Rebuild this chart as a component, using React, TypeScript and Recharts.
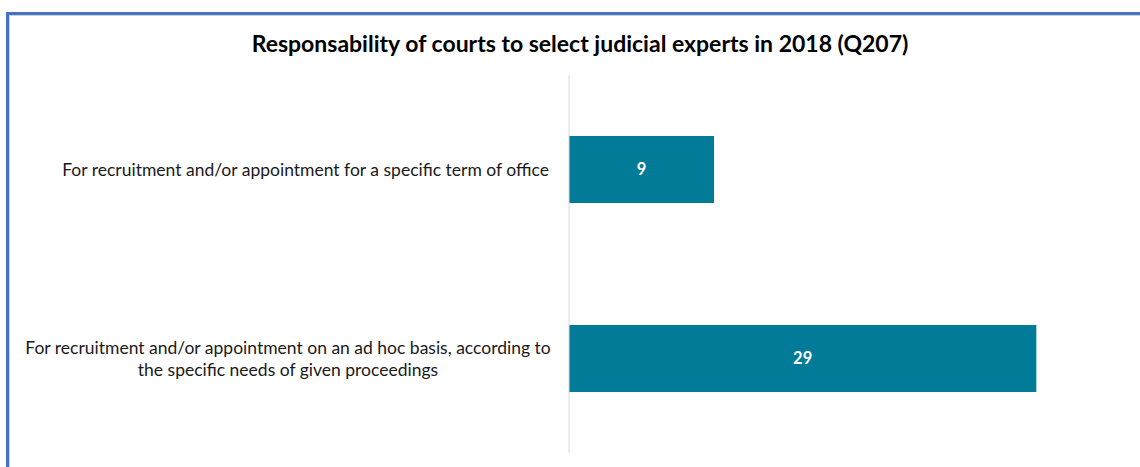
import React from "react";
import { BarChart, Bar, XAxis, YAxis, LabelList } from "recharts";

const TITLE = "Responsability of courts to select judicial experts in 2018 (Q207)";
const categories = [
  "For recruitment and/or appointment for a specific term of office",
  "For recruitment and/or appointment on an ad hoc basis, according to the specific needs of given proceedings",
];
const values = [9, 29];
const X_DOMAIN: [number, number] = [0, 35];

const data = categories.map((c, i) => ({ name: c, value: values[i] }));

const FONT = "Lato, 'Open Sans', sans-serif";

function wrap(text: string, max: number): string[] {
  const words = text.split(" ");
  const lines: string[] = [];
  let cur = "";
  for (const w of words) {
    const next = cur ? cur + " " + w : w;
    if (next.length > max && cur) {
      lines.push(cur);
      cur = w;
    } else {
      cur = next;
    }
  }
  if (cur) lines.push(cur);
  return lines;
}

const CategoryTick = (props: any) => {
  const { x, y, payload } = props;
  const lines = wrap(String(payload.value), 68);
  const lh = 22;
  const startY = y - ((lines.length - 1) * lh) / 2;
  if (lines.length === 1) {
    return (
      <text x={x - 12} y={y} dy="0.35em" textAnchor="end" fontFamily={FONT} fontSize={17.5} fill="#1a1a1a">
        {lines[0]}
      </text>
    );
  }
  return (
    <text x={x - 273} y={startY} textAnchor="middle" fontFamily={FONT} fontSize={17.5} fill="#1a1a1a">
      {lines.map((l, i) => (
        <tspan key={i} x={x - 273} y={startY + i * lh} dy="0.35em">
          {l}
        </tspan>
      ))}
    </text>
  );
};

export default function App() {
  return (
    <div style={{ position: "absolute", left: 0, top: 0, width: 1140, height: 467, overflow: "hidden", background: "#fff" }}>
      <div
        style={{
          position: "absolute",
          left: 6,
          top: 12,
          width: 1200,
          height: 500,
          borderLeft: "3px solid #4472C4",
          borderTop: "3px solid #4472C4",
          boxShadow: "1px 1px 0 #d0d0d0 inset",
        }}
      />
      <div
        style={{
          position: "absolute",
          left: 0,
          top: 28,
          width: 1160,
          textAlign: "center",
          fontFamily: FONT,
          fontWeight: 700,
          fontSize: 23,
          lineHeight: "30px",
          color: "#000",
        }}
      >
        {TITLE}
      </div>
      <div style={{ position: "absolute", left: 0, top: 0 }}>
        <BarChart
          width={1140}
          height={467}
          data={data}
          layout="vertical"
          margin={{ top: 75, right: 7, bottom: 14, left: 0 }}
          barSize={67}
        >
          <XAxis type="number" domain={X_DOMAIN} hide />
          <YAxis
            type="category"
            dataKey="name"
            width={569}
            axisLine={{ stroke: "#d9d9d9" }}
            tickLine={false}
            tick={<CategoryTick />}
            interval={0}
          />
          <Bar dataKey="value" fill="#017B98" isAnimationActive={false}>
            <LabelList
              dataKey="value"
              position="center"
              fill="#ffffff"
              fontFamily={FONT}
              fontWeight={700}
              fontSize={16.5}
            />
          </Bar>
        </BarChart>
      </div>
    </div>
  );
}
